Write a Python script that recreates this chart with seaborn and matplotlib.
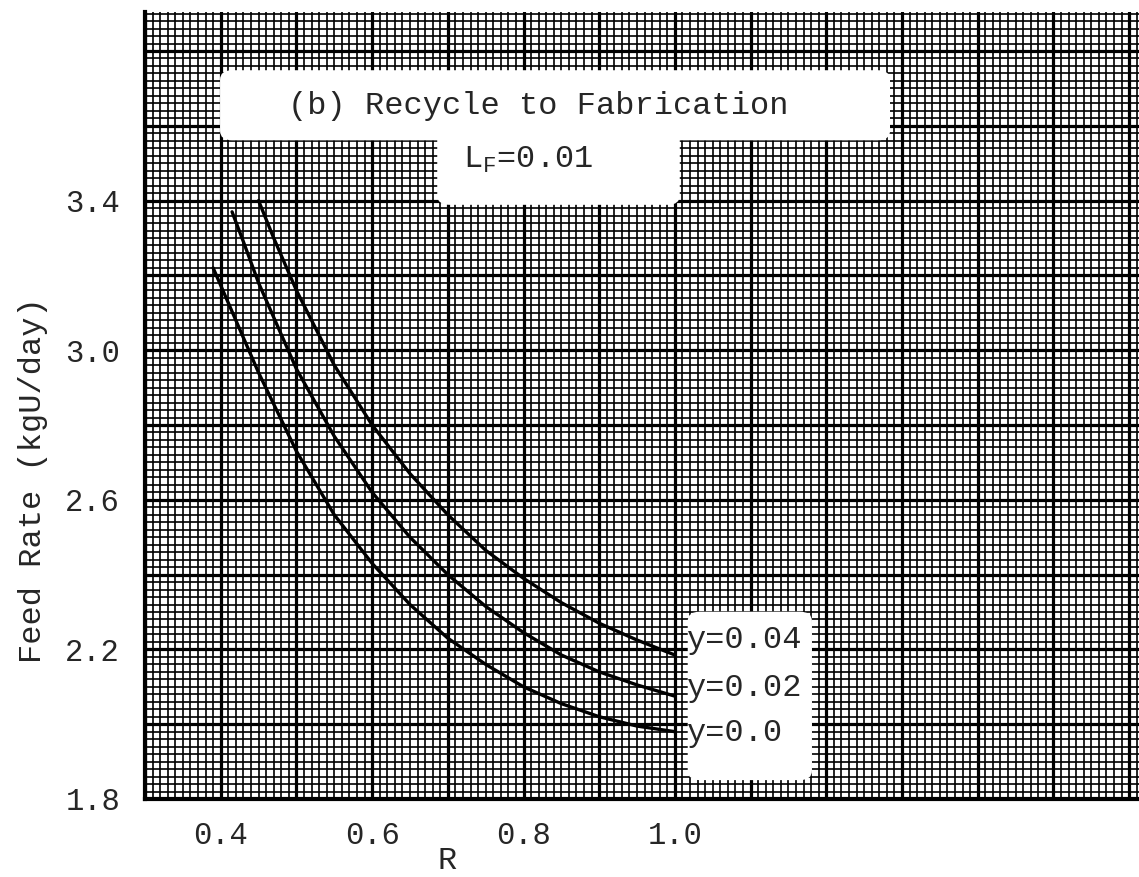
import numpy as np
import pandas as pd
import matplotlib
matplotlib.use("Agg")
import matplotlib.pyplot as plt
from matplotlib.patches import FancyBboxPatch
from matplotlib.ticker import MultipleLocator
import seaborn as sns

# ---- data ----
R_y000 = [0.39, 0.42, 0.45, 0.50, 0.55, 0.60, 0.65, 0.70, 0.75, 0.80, 0.85, 0.90, 0.95, 1.00]
F_y000 = [3.22, 3.08, 2.94, 2.73, 2.56, 2.43, 2.32, 2.23, 2.16, 2.10, 2.055, 2.02, 1.995, 1.98]

R_y002 = [0.415, 0.43, 0.45, 0.50, 0.55, 0.60, 0.65, 0.70, 0.75, 0.80, 0.85, 0.90, 0.95, 1.00]
F_y002 = [3.37, 3.29, 3.18, 2.95, 2.77, 2.62, 2.50, 2.40, 2.315, 2.245, 2.185, 2.14, 2.105, 2.075]

R_y004 = [0.45, 0.47, 0.50, 0.55, 0.60, 0.65, 0.70, 0.75, 0.80, 0.85, 0.90, 0.95, 1.00]
F_y004 = [3.40, 3.30, 3.16, 2.96, 2.80, 2.67, 2.56, 2.465, 2.39, 2.325, 2.27, 2.225, 2.185]

series_names = ["y=0.0", "y=0.02", "y=0.04"]
label_y = [1.977, 2.097, 2.225]

x_ticks = [0.4, 0.6, 0.8, 1.0]
y_ticks = [1.8, 2.2, 2.6, 3.0, 3.4]

title_text = "(b) Recycle to Fabrication"
sub_text = r"L$_{\mathrm{F}}$=0.01"
x_label = "R"
y_label = "Feed Rate (kgU/day)"

df = pd.concat([
    pd.DataFrame({"R": R_y000, "F": F_y000, "s": series_names[0]}),
    pd.DataFrame({"R": R_y002, "F": F_y002, "s": series_names[1]}),
    pd.DataFrame({"R": R_y004, "F": F_y004, "s": series_names[2]}),
])

sns.set_style("white")
plt.rcParams["font.family"] = ["Liberation Mono", "DejaVu Sans Mono"]
plt.rcParams["mathtext.fontset"] = "custom"
plt.rcParams["mathtext.rm"] = "Liberation Mono"
plt.rcParams["mathtext.it"] = "Liberation Mono"

fig = plt.figure(figsize=(11.39, 8.77), dpi=100)
ax = fig.add_axes([145 / 1139, 1 - 799 / 877, 994 / 1139, 787 / 877])

ax.set_xlim(0.3, 0.3 + 994 / 757)
ax.set_ylim(1.8, 1.8 + 787 / 374)

# graph-paper grid
ax.xaxis.set_minor_locator(MultipleLocator(0.01))
ax.yaxis.set_minor_locator(MultipleLocator(0.02))
ax.grid(which="minor", color="black", linewidth=1.2, zorder=0)
ax.grid(which="major", visible=False)
ax.set_axisbelow(True)
for xv in np.arange(0.3, 1.62, 0.1):
    ax.axvline(xv, color="black", linewidth=2.3, zorder=0.5)
for yv in np.arange(1.8, 3.95, 0.2):
    ax.axhline(yv, color="black", linewidth=2.3, zorder=0.5)

ax.set_xticks(x_ticks)
ax.set_yticks(y_ticks)
ax.set_xticklabels([f"{v:.1f}" for v in x_ticks], fontsize=22)
ax.set_yticklabels([f"{v:.1f}" for v in y_ticks], fontsize=22)
ax.tick_params(which="both", length=0)
ax.tick_params(axis="y", pad=18)
ax.tick_params(axis="x", pad=16)

for side in ["top", "right"]:
    ax.spines[side].set_visible(False)
for side in ["left", "bottom"]:
    ax.spines[side].set_linewidth(3)
    ax.spines[side].set_color("black")
    ax.spines[side].set_zorder(5)

sns.lineplot(data=df, x="R", y="F", units="s", estimator=None, color="black",
             linewidth=2.4, legend=False, ax=ax, zorder=4, sort=False)

# white label boxes
box_kw = dict(boxstyle="round,pad=0,rounding_size=0.012", facecolor="white",
              edgecolor="none", transform=ax.transAxes, zorder=3)
ax.add_patch(FancyBboxPatch((0.0755, 0.837), 0.674, 0.089, **box_kw))
ax.add_patch(FancyBboxPatch((0.294, 0.755), 0.244, 0.12, **box_kw))
ax.add_patch(FancyBboxPatch((0.546, 0.024), 0.125, 0.214, **box_kw))

ax.text(0.396, 0.880, title_text, transform=ax.transAxes, fontsize=23,
        ha="center", va="center", zorder=6)
ax.text(0.385, 0.812, sub_text, transform=ax.transAxes, fontsize=23,
        ha="center", va="center", zorder=6)

for name, yv in zip(series_names, label_y):
    ax.text(1.016, yv, name, fontsize=23, ha="left", va="center", zorder=6)

ax.set_xlabel(x_label, fontsize=23)
ax.set_ylabel(y_label, fontsize=23)
ax.xaxis.set_label_coords(0.304, -0.060)
ax.yaxis.set_label_coords(-0.098, 0.405)

fig.savefig("out.png", dpi=100)
